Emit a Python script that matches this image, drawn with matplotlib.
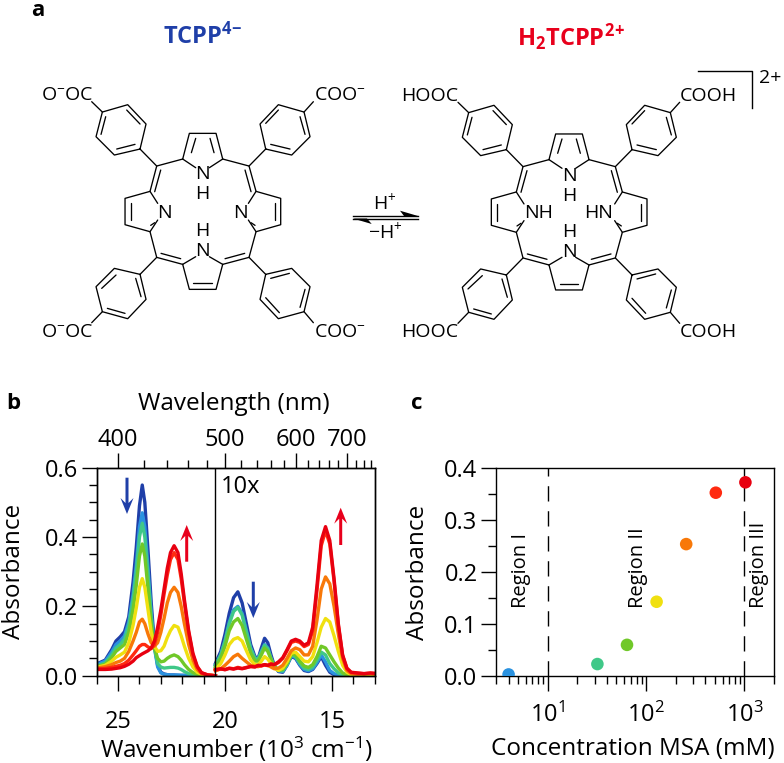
"""TCPP protonation figure: structures (a), absorbance spectra (b), titration points (c)."""
import numpy as np
import matplotlib
matplotlib.use("Agg")
import matplotlib.pyplot as plt
from matplotlib.collections import LineCollection
from matplotlib.patches import Polygon
from matplotlib.ticker import FixedLocator, NullFormatter

plt.rcParams["font.family"] = ["Open Sans", "DejaVu Sans"]
plt.rcParams["mathtext.fontset"] = "custom"
plt.rcParams["mathtext.rm"] = "Open Sans"
plt.rcParams["mathtext.default"] = "regular"
plt.rcParams["axes.unicode_minus"] = True

W, H = 784, 763
BLUE = "#1f3fa8"
RED = "#e8001c"
TICK_FS = 17
LABEL_FS = 17.5

# spectra, panel b: 8 MSA concentrations, wavenumbers in 10^3 cm-1
curve_colors = ["#1f3fa8", "#2a92e0", "#40c888", "#70c828", "#f0e010", "#f87808", "#ff2a10", "#e80010"]

wn_left = [26.0, 25.6, 25.3, 25.1, 24.9, 24.7, 24.5, 24.3, 24.15, 24.0, 23.87, 23.75, 23.6, 23.45, 23.3,
           23.15, 23.0, 22.85, 22.7, 22.55, 22.38, 22.2, 22.05, 21.9, 21.7, 21.5, 21.3, 21.1, 20.8, 20.45]
abs_left = [
    [0.034, 0.045, 0.075, 0.100, 0.112, 0.127, 0.170, 0.270, 0.370, 0.490, 0.550, 0.500, 0.360, 0.210, 0.090,
     0.030, 0.010, 0.005, 0.003, 0.002, 0.002, 0.001, 0.001, 0.001, 0, 0, 0, 0, 0, 0],
    [0.032, 0.042, 0.068, 0.090, 0.100, 0.115, 0.155, 0.235, 0.320, 0.430, 0.470, 0.430, 0.310, 0.180, 0.080,
     0.025, 0.008, 0.004, 0.003, 0.002, 0.002, 0.002, 0.001, 0.001, 0, 0, 0, 0, 0, 0],
    [0.028, 0.037, 0.060, 0.080, 0.090, 0.105, 0.145, 0.220, 0.300, 0.400, 0.440, 0.400, 0.290, 0.170, 0.080,
     0.035, 0.025, 0.022, 0.023, 0.024, 0.024, 0.022, 0.018, 0.012, 0.006, 0.003, 0.001, 0, 0, 0],
    [0.026, 0.033, 0.052, 0.070, 0.080, 0.090, 0.125, 0.190, 0.260, 0.345, 0.380, 0.345, 0.250, 0.150, 0.080,
     0.050, 0.040, 0.042, 0.050, 0.056, 0.060, 0.055, 0.045, 0.032, 0.018, 0.009, 0.004, 0.002, 0.001, 0],
    [0.024, 0.030, 0.042, 0.053, 0.060, 0.068, 0.095, 0.145, 0.195, 0.255, 0.280, 0.255, 0.190, 0.125, 0.085,
     0.070, 0.072, 0.085, 0.110, 0.130, 0.145, 0.140, 0.115, 0.085, 0.050, 0.025, 0.010, 0.004, 0.001, 0],
    [0.022, 0.026, 0.032, 0.038, 0.042, 0.050, 0.070, 0.100, 0.125, 0.155, 0.163, 0.150, 0.120, 0.095, 0.085,
     0.095, 0.125, 0.165, 0.210, 0.240, 0.255, 0.240, 0.200, 0.150, 0.090, 0.045, 0.018, 0.006, 0.002, 0],
    [0.020, 0.021, 0.024, 0.027, 0.030, 0.035, 0.045, 0.060, 0.072, 0.085, 0.090, 0.090, 0.083, 0.078, 0.090,
     0.125, 0.175, 0.235, 0.290, 0.335, 0.355, 0.335, 0.280, 0.210, 0.125, 0.060, 0.025, 0.008, 0.002, 0],
    [0.018, 0.018, 0.019, 0.021, 0.023, 0.027, 0.033, 0.042, 0.052, 0.058, 0.063, 0.067, 0.072, 0.080, 0.100,
     0.140, 0.190, 0.250, 0.310, 0.355, 0.375, 0.355, 0.295, 0.220, 0.130, 0.065, 0.027, 0.009, 0.002, 0],
]

# right part of panel b is scaled 10x
wn_right = [20.45, 20.2, 20.0, 19.8, 19.6, 19.4, 19.2, 19.0, 18.8, 18.6, 18.45, 18.3, 18.15, 18.0, 17.85, 17.7,
            17.5, 17.3, 17.1, 16.9, 16.7, 16.5, 16.3, 16.1, 15.9, 15.7, 15.5, 15.3, 15.1, 14.9, 14.7, 14.5,
            14.3, 14.1, 13.8, 13.5, 13.2, 13.0]
abs_right = [
    [0.035, 0.070, 0.120, 0.180, 0.225, 0.242, 0.210, 0.150, 0.090, 0.055, 0.050, 0.080, 0.108, 0.095, 0.060, 0.030,
     0.012, 0.010, 0.030, 0.055, 0.050, 0.030, 0.015, 0.012, 0.018, 0.035, 0.055, 0.030, 0.010, 0.003, 0.001, 0,
     0, 0, 0, 0, 0, 0],
    [0.030, 0.060, 0.100, 0.155, 0.190, 0.200, 0.180, 0.130, 0.080, 0.050, 0.050, 0.070, 0.090, 0.080, 0.050, 0.028,
     0.014, 0.012, 0.030, 0.058, 0.052, 0.032, 0.018, 0.014, 0.020, 0.038, 0.060, 0.040, 0.015, 0.006, 0.002, 0,
     0, 0, 0, 0, 0, 0],
    [0.030, 0.060, 0.100, 0.150, 0.185, 0.197, 0.175, 0.125, 0.078, 0.050, 0.048, 0.068, 0.088, 0.078, 0.050, 0.028,
     0.015, 0.014, 0.032, 0.060, 0.055, 0.036, 0.022, 0.018, 0.025, 0.045, 0.068, 0.060, 0.035, 0.020, 0.008, 0.002,
     0, 0, 0, 0, 0, 0],
    [0.025, 0.050, 0.085, 0.130, 0.155, 0.165, 0.145, 0.105, 0.065, 0.042, 0.042, 0.060, 0.080, 0.070, 0.048, 0.028,
     0.016, 0.018, 0.035, 0.062, 0.060, 0.042, 0.028, 0.024, 0.032, 0.055, 0.085, 0.080, 0.060, 0.040, 0.022, 0.008,
     0.002, 0, 0, 0, 0, 0],
    [0.018, 0.035, 0.060, 0.090, 0.105, 0.110, 0.100, 0.072, 0.045, 0.032, 0.032, 0.042, 0.055, 0.048, 0.035, 0.022,
     0.015, 0.022, 0.040, 0.065, 0.068, 0.055, 0.042, 0.040, 0.055, 0.095, 0.140, 0.165, 0.155, 0.115, 0.070, 0.030,
     0.010, 0.003, 0.002, 0, 0, 0],
    [0.014, 0.020, 0.030, 0.042, 0.055, 0.062, 0.050, 0.040, 0.030, 0.027, 0.026, 0.030, 0.032, 0.030, 0.025, 0.020,
     0.022, 0.030, 0.050, 0.072, 0.080, 0.075, 0.060, 0.060, 0.085, 0.160, 0.250, 0.285, 0.265, 0.200, 0.120, 0.050,
     0.015, 0.006, 0.004, 0.005, 0.006, 0.005],
    [0.016, 0.019, 0.018, 0.022, 0.020, 0.024, 0.021, 0.024, 0.026, 0.026, 0.029, 0.028, 0.031, 0.029, 0.033, 0.031,
     0.038, 0.050, 0.072, 0.096, 0.100, 0.096, 0.084, 0.090, 0.130, 0.245, 0.375, 0.418, 0.380, 0.272, 0.145, 0.058,
     0.020, 0.009, 0.007, 0.006, 0.007, 0.006],
    [0.018, 0.020, 0.017, 0.021, 0.019, 0.022, 0.020, 0.023, 0.027, 0.025, 0.030, 0.029, 0.032, 0.030, 0.034, 0.032,
     0.040, 0.052, 0.075, 0.100, 0.105, 0.100, 0.088, 0.095, 0.140, 0.260, 0.390, 0.430, 0.390, 0.280, 0.150, 0.060,
     0.022, 0.010, 0.008, 0.006, 0.008, 0.007],
]

wavelength_major = [400, 500, 600, 700]
wavelength_minor = [420, 440, 460, 480, 520, 540, 560, 580, 620, 640, 660, 680, 720, 740, 760]

# panel c
msa_conc = [4, 32, 64, 128, 256, 512, 1024]
msa_abs = [0.003, 0.023, 0.060, 0.143, 0.254, 0.353, 0.373]
msa_colors = ["#2a92e0", "#40c888", "#70c828", "#f0e010", "#f87808", "#ff2a10", "#e80010"]
region_lines = [10, 1000]


def ax_rect(left, top, right, bottom):
    return [left / W, 1 - bottom / H, (right - left) / W, (bottom - top) / H]


def style_axes(ax):
    for s in ax.spines.values():
        s.set_linewidth(1.0)
    ax.tick_params(which="major", length=10.5, width=1.0, labelsize=TICK_FS, pad=3)
    ax.tick_params(which="minor", length=5.5, width=1.0)


fig = plt.figure(figsize=(W / 100, H / 100), dpi=100)

# --- panel b
ax = fig.add_axes(ax_rect(96.7, 467.7, 374.7, 675.7))
style_axes(ax)
for color, vals in zip(curve_colors, abs_left):
    ax.plot(wn_left, vals, color=color, lw=2.4, solid_joinstyle="round")
for color, vals in zip(curve_colors, abs_right):
    ax.plot(wn_right, vals, color=color, lw=2.4, solid_joinstyle="round")
ax.axvline(20.45, color="black", lw=1.0, zorder=5)
ax.set_xlim(26, 13)
ax.set_ylim(0, 0.6)
ax.set_xticks([25, 20, 15])
ax.set_xticks([26, 24, 23, 22, 21, 19, 18, 17, 16, 14, 13], minor=True)
ax.set_yticks([0, 0.2, 0.4, 0.6])
ax.set_yticklabels(["0.0", "0.2", "0.4", "0.6"])
ax.set_yticks(np.arange(0, 0.61, 0.05), minor=True)
ax.tick_params(axis="x", which="major", pad=14)
ax.set_xlabel("Wavenumber (10$^{3}$ cm$^{−1}$)", fontsize=LABEL_FS)
ax.xaxis.set_label_coords(0.502, -0.285)
ax.set_ylabel("Absorbance", fontsize=LABEL_FS)
ax.yaxis.set_label_coords(-0.255, 0.5)
ax.text(20.2, 0.578, "10x", fontsize=TICK_FS, va="top", ha="left", zorder=6)

top = ax.twiny()
style_axes(top)
top.set_xlim(26, 13)
top.set_xticks([1e4 / w for w in wavelength_major])
top.set_xticklabels([str(w) for w in wavelength_major])
top.set_xticks([1e4 / w for w in wavelength_minor], minor=True)
top.tick_params(axis="x", which="major", pad=1)
top.set_xlabel("Wavelength (nm)", fontsize=LABEL_FS)
top.xaxis.set_label_coords(0.495, 1.275)

# --- panel c
ax2 = fig.add_axes(ax_rect(496.3, 468.3, 774, 676))
style_axes(ax2)
ax2.set_xscale("log")
ax2.set_xlim(3, 2000)
ax2.set_ylim(0, 0.4)
for x in region_lines:
    ax2.axvline(x, color="black", lw=1.0, dashes=(11, 7), zorder=1)
ax2.scatter(msa_conc, msa_abs, s=82, c=msa_colors, linewidths=0, zorder=3)
ax2.set_xticks([10, 100, 1000])
ax2.set_xticklabels(["10$^{1}$", "10$^{2}$", "10$^{3}$"])
ax2.xaxis.set_minor_locator(FixedLocator([3, 4, 5, 6, 7, 8, 9, 20, 30, 40, 50, 60, 70, 80, 90,
                                          200, 300, 400, 500, 600, 700, 800, 900, 2000]))
ax2.xaxis.set_minor_formatter(NullFormatter())
ax2.set_yticks([0, 0.1, 0.2, 0.3, 0.4])
ax2.set_yticklabels(["0.0", "0.1", "0.2", "0.3", "0.4"])
ax2.set_yticks([0.05, 0.15, 0.25, 0.35], minor=True)
ax2.tick_params(axis="x", which="major", pad=9)
ax2.set_xlabel("Concentration MSA (mM)", fontsize=LABEL_FS)
ax2.xaxis.set_label_coords(0.49, -0.295)
ax2.set_ylabel("Absorbance", fontsize=LABEL_FS)
ax2.yaxis.set_label_coords(-0.24, 0.5)

# --- overlay in image pixels: structures, arrows, panel letters
ov = fig.add_axes([0, 0, 1, 1], zorder=10)
ov.set_xlim(0, W)
ov.set_ylim(H, 0)
ov.axis("off")
ov.patch.set_alpha(0)

for label, x, y in [("a", 38, 16), ("b", 13, 409), ("c", 417, 409)]:
    ov.text(x, y, label, fontsize=16, fontweight="bold", ha="center", va="baseline")

ov.text(203, 36, "TCPP$^{4\\!−}$", color=BLUE, fontsize=17, fontweight="bold", ha="center", va="center")
ov.text(571, 37, "H$_{2}$TCPP$^{2\\!+}$", color=RED, fontsize=17, fontweight="bold", ha="center", va="center")

# porphyrin skeleton, traced in units of 1/3 px around the ring centre
CX, CY = 518, 635
skeleton = [
    # ring frame
    [(458, 477), (478, 400), (558, 400), (578, 477)],
    [(458, 477), (497, 503)], [(578, 477), (538, 503)],
    [(458, 793), (478, 868), (558, 868), (578, 793)],
    [(458, 793), (497, 770)], [(578, 793), (538, 770)],
    [(458, 477), (380, 498), (360, 574), (285, 595), (285, 674), (360, 695), (380, 772), (458, 793)],
    [(578, 477), (657, 498), (678, 574), (752, 595), (752, 674), (678, 695), (657, 772), (578, 793)],
    [(360, 574), (383, 610)], [(360, 695), (383, 660)],
    [(678, 574), (655, 610)], [(678, 695), (655, 660)],
    # inner double-bond strokes
    [(484, 458), (497, 415)], [(552, 458), (540, 415)], [(490, 850), (545, 850)],
    [(392, 510), (374, 575)], [(645, 510), (663, 575)],
    [(302, 610), (302, 660)], [(735, 610), (735, 660)],
    [(374, 668), (362, 676)], [(663, 668), (675, 676)],
    [(393, 760), (452, 776)], [(644, 760), (585, 776)],
    # meso to phenyl
    [(380, 498), (330, 447)], [(657, 498), (707, 447)],
    [(380, 772), (330, 823)], [(657, 772), (707, 823)],
    # phenyl rings with carboxyl bond
    [(330, 447), (348, 372), (293, 314), (217, 336), (198, 410), (253, 465), (330, 447)],
    [(260, 447), (315, 433)], [(330, 372), (290, 330)], [(227, 350), (213, 403)], [(217, 336), (185, 305)],
    [(707, 447), (690, 372), (745, 314), (822, 336), (840, 410), (785, 465), (707, 447)],
    [(722, 433), (780, 447)], [(707, 370), (745, 330)], [(810, 350), (825, 403)], [(822, 336), (850, 305)],
    [(330, 823), (253, 805), (198, 860), (217, 935), (293, 956), (348, 898), (330, 823)],
    [(258, 825), (215, 865)], [(317, 835), (333, 890)], [(232, 925), (285, 940)], [(217, 935), (185, 968)],
    [(707, 823), (690, 898), (745, 956), (822, 935), (840, 860), (785, 805), (707, 823)],
    [(722, 835), (778, 820)], [(707, 893), (748, 938)], [(810, 922), (825, 868)], [(822, 935), (850, 968)],
]


def draw_skeleton(cx, cy):
    segs = [[(cx + (x - CX) / 3, cy + (y - CY) / 3) for x, y in path] for path in skeleton]
    ov.add_collection(LineCollection(segs, colors="black", linewidths=0.95, capstyle="round", joinstyle="round"))


draw_skeleton(202.7, 211.7)
draw_skeleton(569, 212.3)

FS = 14
atoms_left = [("O$^{−}$OC", 40.7, 95, "left"), ("COO$^{−}$", 314, 95, "left"),
              ("O$^{−}$OC", 40.7, 332, "left"), ("COO$^{−}$", 314, 332, "left"),
              ("N", 202.7, 174, "center"), ("H", 202.7, 194.3, "center"),
              ("H", 202.7, 230.7, "center"), ("N", 202.7, 251, "center"),
              ("N", 164, 212.7, "center"), ("N", 240.7, 212.7, "center")]
atoms_right = [("HOOC", 400.7, 95.7, "left"), ("COOH", 680, 95.7, "left"),
               ("HOOC", 400.7, 332, "left"), ("COOH", 680, 332, "left"),
               ("N", 569, 175.7, "center"), ("H", 569, 195.7, "center"),
               ("H", 569, 231.7, "center"), ("N", 569, 251.7, "center"),
               ("NH", 538.3, 213.3, "center"), ("HN", 598.3, 213.3, "center")]
for s, x, y, ha in atoms_left + atoms_right:
    ov.text(x, y, s, fontsize=FS, ha=ha, va="center", zorder=3)

# charge bracket
ov.plot([698, 752, 752], [70.7, 70.7, 108], color="black", lw=1.0)
ov.text(770, 78, "2+", fontsize=FS, ha="center", va="center")

# equilibrium arrows
ov.plot([353, 418], [216, 216], color="black", lw=1.0)
ov.plot([353, 418], [218.5, 218.5], color="black", lw=1.0)
ov.add_patch(Polygon([(418, 216), (400, 210.7), (404, 216)], color="black", lw=0))
ov.add_patch(Polygon([(353, 218.5), (371.7, 224), (367, 218.5)], color="black", lw=0))
ov.text(385, 203, "H$^{+}$", fontsize=FS, ha="center", va="center")
ov.text(385, 232, "−H$^{+}$", fontsize=FS, ha="center", va="center")


def block_arrow(x, y_tail, y_tip, color):
    d = 1 if y_tip > y_tail else -1
    head = y_tip - d * 16
    notch = y_tip - d * 11
    ov.add_patch(Polygon([(x - 1.5, y_tail), (x + 1.5, y_tail), (x + 1.5, notch), (x + 6.5, head),
                          (x, y_tip), (x - 6.5, head), (x - 1.5, notch)], color=color, lw=0))


block_arrow(127, 477.7, 514, BLUE)
block_arrow(186.7, 561.7, 525, RED)
block_arrow(253.3, 581.7, 618, BLUE)
block_arrow(340.7, 545, 507.7, RED)

# region labels
for s, x in [("Region I", 521), ("Region II", 637.7), ("Region III", 758.7)]:
    ov.text(x, 608, s, fontsize=14.5, rotation=90, ha="center", va="bottom")

fig.savefig("out.png", dpi=100)
plt.close(fig)
